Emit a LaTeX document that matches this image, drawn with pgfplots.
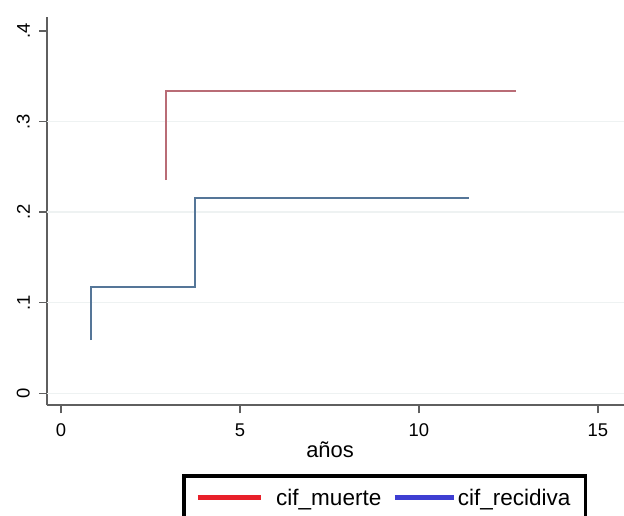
\documentclass[border=0pt]{standalone}
\usepackage{fontspec}
\setmainfont{Liberation Sans}
\usepackage{pgfplots}
\pgfplotsset{compat=1.18}
\definecolor{cifred}{RGB}{185,108,118}
\definecolor{cifblue}{RGB}{85,118,152}
\definecolor{legred}{RGB}{232,32,42}
\definecolor{legblue}{RGB}{62,62,210}
\definecolor{axgray}{RGB}{95,95,95}
\definecolor{gridc}{RGB}{238,242,242}
\begin{document}
\begin{tikzpicture}
\useasboundingbox (0,0) rectangle (624bp,516bp);
\clip (0,0) rectangle (624bp,516bp);
\begin{axis}[
  at={(47bp,110.7bp)}, anchor=south west,
  scale only axis,
  width=577bp, height=388.3bp,
  xmin=-0.39, xmax=15.727,
  ymin=-0.01325, ymax=0.4153,
  axis x line=bottom, axis y line=left,
  axis line style={-, draw=axgray, line width=1.8bp},
  xtick={0,5,10,15},
  ytick={0,0.1,0.2,0.3,0.4},
  yticklabels={0,.1,.2,.3,.4},
  tick align=outside,
  major tick length=8bp,
  tick style={draw=axgray, line width=1.5bp},
  /pgf/number format/assume math mode=true,
  tick label style={font=\fontsize{18.5}{20}\selectfont},
  yticklabel style={xshift=-9bp, rotate=90, anchor=south, inner sep=0pt},
  xticklabel style={inner sep=0pt, anchor=north, yshift=-10bp},
  extra y ticks={0,0.1,0.2,0.3},
  extra y tick labels={},
  extra y tick style={grid=major, major tick length=0pt, tick style={draw=none}},
  grid style={draw=gridc, line width=1.5bp},
  xlabel={años},
  xlabel style={at={(axis description cs:0.4905,-0.1357)}, anchor=base, font=\fontsize{22}{24}\selectfont, inner sep=0pt},
  legend columns=2,
  legend style={at={(axis description cs:0.2344,-0.1778)}, anchor=north west,
    draw=black, line width=3.3bp, inner xsep=11.5bp, inner ysep=13bp,
    font=\fontsize{22.6}{24}\selectfont,
    nodes={inner sep=0pt, anchor=base west}},
]
\addplot[cifred, line width=2bp, line join=miter,
  legend image code/.code={\draw[legred, line width=5bp] (0bp,8.3bp) -- (63.3bp,8.3bp);}]
  coordinates {(2.92,0.2354) (2.92,0.3337) (12.7,0.3337)};
\addlegendentry{\hspace{12.5bp}cif\_muerte\kern11bp}
\addplot[cifblue, line width=2bp, line join=miter,
  legend image code/.code={\draw[legblue, line width=5bp] (0bp,8.3bp) -- (59bp,8.3bp);}]
  coordinates {(0.84,0.0588) (0.84,0.1177) (3.73,0.1177) (3.73,0.2152) (11.41,0.2152)};
\addlegendentry{\hspace{1.5bp}cif\_recidiva\kern3.5bp}
\end{axis}
\end{tikzpicture}
\end{document}
